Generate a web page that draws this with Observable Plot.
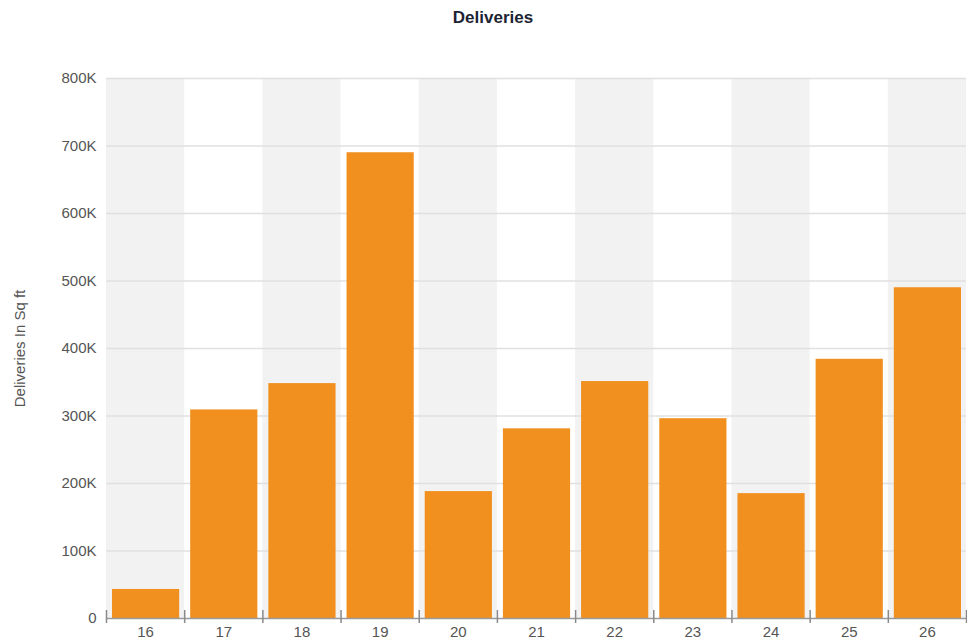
<!DOCTYPE html>
<html>
<head>
<meta charset="utf-8">
<script src="https://cdn.jsdelivr.net/npm/d3@7"></script>
<script src="https://cdn.jsdelivr.net/npm/@observablehq/plot@0.6"></script>
<style>
  html, body { margin: 0; padding: 0; background: #fff; }
  #title { font: bold 17px "Liberation Sans", Arial, sans-serif; height: 36px; line-height: 36px; color: #1c2434; text-align: center; padding-left: 19px; width: 948px; }
  #chart svg { display: block; }
</style>
</head>
<body>
<div id="title">Deliveries</div>
<div id="chart"></div>
<script>
const years = [16, 17, 18, 19, 20, 21, 22, 23, 24, 25, 26];
const deliveries = [43000, 309000, 348000, 690000, 188000, 281000, 351000, 296000, 185000, 384000, 490000];
const yTicks = [0, 100000, 200000, 300000, 400000, 500000, 600000, 700000, 800000];
const yTickLabels = ["0", "100K", "200K", "300K", "400K", "500K", "600K", "700K", "800K"];
const yLabel = "Deliveries In Sq ft";

const data = years.map((y, i) => ({year: y, value: deliveries[i]}));
const shaded = years.filter((y, i) => i % 2 === 0);
const boundaries = [years[0] - 0.5, ...years.map(y => y + 0.5)];
const yMax = yTicks[yTicks.length - 1];

const chart = Plot.plot({
  width: 967,
  height: 603,
  marginTop: 42,
  marginBottom: 21,
  marginLeft: 106,
  marginRight: 1,
  style: {fontFamily: "'Liberation Sans', Arial, sans-serif", fontSize: "15px", color: "#555", background: "#fff"},
  x: {type: "linear", domain: [boundaries[0], boundaries[boundaries.length - 1]], axis: null},
  y: {
    domain: [0, yMax],
    ticks: yTicks,
    tickFormat: (d) => yTickLabels[yTicks.indexOf(d)],
    tickSize: 0,
    tickPadding: 10,
    label: null
  },
  marks: [
    Plot.rect(shaded, {x1: d => d - 0.5, x2: d => d + 0.5, y1: 0, y2: yMax, fill: "#f2f2f2"}),
    Plot.ruleY(yTicks.filter(t => t > 0), {stroke: "#e0e0e0", strokeWidth: 1.5}),
    Plot.rectY(data, {x1: d => d.year - 0.5, x2: d => d.year + 0.5, y: "value", fill: "#f18f1f", insetLeft: 6, insetRight: 5}),
    Plot.ruleY([0], {stroke: "#9a9a9a", strokeWidth: 1.5}),
    Plot.ruleX(boundaries, {x: d => d, y1: 0, y2: 0, insetTop: -8, insetBottom: -5, stroke: "#8a8a8a", strokeWidth: 1.5}),
    Plot.text(years, {x: d => d, y: 0, dy: 14, text: d => String(d), fill: "#555", fontSize: 15}),
    Plot.text([yLabel], {frameAnchor: "left", dx: -86, rotate: -90, text: d => d, fill: "#555", fontSize: 15, textAnchor: "middle"})
  ]
});
document.getElementById("chart").appendChild(chart);
</script>
</body>
</html>
